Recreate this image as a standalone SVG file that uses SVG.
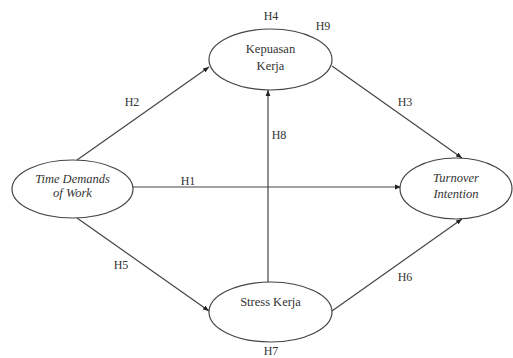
<svg xmlns="http://www.w3.org/2000/svg" width="513" height="358" viewBox="0 0 513 358" font-family="Liberation Serif, Times New Roman, DejaVu Serif, serif">
<style>
.node ellipse{fill:#fff;stroke:#444;stroke-width:1.2}
text{font-family:'Liberation Serif','Times New Roman','DejaVu Serif',serif;font-size:12.5px;fill:#333;text-anchor:middle}
.it{font-style:italic}
.lbl{font-size:12px}
.edges line{stroke:#444;stroke-width:1.2;marker-end:url(#arr)}
</style>
<defs>
<marker id="arr" viewBox="0 0 10 10" refX="10" refY="5" markerWidth="6" markerHeight="6" orient="auto" markerUnits="userSpaceOnUse">
<path d="M0,1 L10,5 L0,9 z" fill="#222"/>
</marker>
</defs>
<rect width="513" height="358" fill="#fff"/>
<g class="edges">
<line x1="133" y1="187" x2="401" y2="187"/>
<line x1="268" y1="282" x2="268" y2="90"/>
<line x1="77" y1="160" x2="209" y2="67"/>
<line x1="332" y1="66" x2="462" y2="158"/>
<line x1="77" y1="218" x2="209" y2="311"/>
<line x1="332" y1="311" x2="462" y2="219"/>
</g>
<g class="labels">
<text class="lbl" x="271" y="20">H4</text>
<text class="lbl" x="323" y="30">H9</text>
<text class="lbl" x="132" y="106">H2</text>
<text class="lbl" x="405" y="106">H3</text>
<text class="lbl" x="279" y="139">H8</text>
<text class="lbl" x="188" y="185">H1</text>
<text class="lbl" x="121" y="269">H5</text>
<text class="lbl" x="405" y="281">H6</text>
<text class="lbl" x="271" y="355">H7</text>
</g>
<g id="kepuasan" class="node">
<ellipse cx="270.5" cy="59.5" rx="61.5" ry="30.5"/>
<text x="270.5" y="53">Kepuasan</text>
<text x="270.5" y="70">Kerja</text>
</g>
<g id="time-demands" class="node">
<ellipse cx="72.5" cy="189" rx="60.5" ry="29"/>
<text class="it" x="72.5" y="183">Time Demands</text>
<text class="it" x="72.5" y="197">of Work</text>
</g>
<g id="turnover" class="node">
<ellipse cx="456" cy="188.5" rx="56" ry="30.5"/>
<text class="it" x="456" y="182">Turnover</text>
<text class="it" x="456" y="198">Intention</text>
</g>
<g id="stress" class="node">
<ellipse cx="270.5" cy="312" rx="61.5" ry="30"/>
<text x="270.5" y="306">Stress Kerja</text>
</g>
</svg>
